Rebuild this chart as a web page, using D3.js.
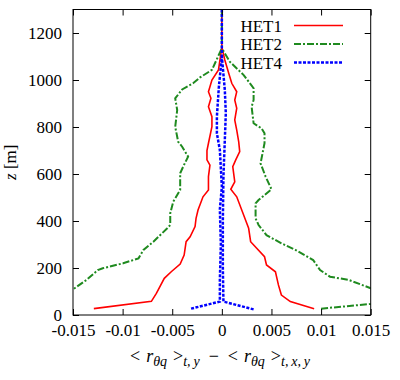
<!DOCTYPE html>
<html>
<head>
    <script src="https://cdn.jsdelivr.net/npm/d3@7"></script>
    <style>
        body { margin: 0; background: white; }
        .frame { fill: none; stroke: black; stroke-width: 1px; }
        .het1 { fill: none; stroke: #ff0000; stroke-width: 1.6px; }
        .het2 { fill: none; stroke: #1f8a1f; stroke-width: 2px; stroke-dasharray: 7,2,2,2; }
        .het4 { fill: none; stroke: #0000ff; stroke-width: 2.5px; stroke-dasharray: 3,1.5; }
    </style>
</head>

<body>
<div id="chart"></div>

<script>

    // [value, z] pairs, each branch read bottom -> top
    var het1Left = [[-0.0129, 27], [-0.0071, 58], [-0.0066, 92], [-0.0058, 156], [-0.0051, 184],
        [-0.0042, 217], [-0.0038, 255], [-0.0036, 312], [-0.0032, 333], [-0.0027, 376],
        [-0.0026, 411], [-0.0024, 447], [-0.0019, 503], [-0.00135, 532], [-0.00135, 589],
        [-0.0012, 638], [-0.0015, 660], [-0.0015, 700], [-0.00135, 731], [-0.001, 801],
        [-0.001, 844], [-0.00135, 886], [-0.0011, 922], [-0.00135, 950], [-0.001, 1000],
        [-0.00034, 1043], [0, 1140], [0, 1300]];
    var het1Right = [[0.0093, 27], [0.0069, 57], [0.0060, 85], [0.0057, 128], [0.0054, 184],
        [0.0045, 213], [0.0043, 248], [0.0029, 312], [0.0027, 369], [0.0015, 503],
        [0.0009, 535], [0.0013, 567], [0.0011, 631], [0.0014, 660], [0.0018, 695],
        [0.0017, 737], [0.0015, 787], [0.0013, 830], [0.0015, 880], [0.0013, 915],
        [0.0015, 950], [0.001, 986], [0.0007, 1028], [0.0003, 1085], [0, 1140]];

    var het2Left = [[-0.0178, 27], [-0.015, 109], [-0.01365, 149], [-0.0125, 191], [-0.012, 199],
        [-0.00995, 220], [-0.0084, 241], [-0.0079, 277], [-0.0069, 312], [-0.0055, 369],
        [-0.0052, 383], [-0.0052, 433], [-0.0049, 482], [-0.0042, 532], [-0.0042, 603],
        [-0.0039, 631], [-0.0034, 674], [-0.0040, 716], [-0.0044, 737], [-0.0047, 801],
        [-0.0045, 872], [-0.0047, 922], [-0.0040, 960], [-0.0029, 986], [-0.0022, 1011],
        [-0.001, 1043], [0, 1135], [0, 1300]];
    var het2Right = [[0.0100, 27], [0.0150, 47], [0.0170, 80], [0.0150, 114], [0.0128, 149],
        [0.0109, 163], [0.0099, 191], [0.0092, 234], [0.0074, 277], [0.0060, 305],
        [0.0045, 340], [0.0037, 383], [0.0034, 411], [0.0034, 475], [0.0037, 489],
        [0.0050, 535], [0.0044, 590], [0.0039, 645], [0.0043, 731], [0.0043, 773],
        [0.0040, 794], [0.0032, 816], [0.0030, 886], [0.0032, 915], [0.0032, 965],
        [0.0022, 1021], [0.0008, 1078], [0, 1135]];

    var het4Left = [[-0.0031, 27], [-0.0002, 57], [-0.0002, 150], [-0.0001, 300], [-0.0002, 450],
        [0, 546], [-0.0002, 702], [-0.0005, 773], [-0.0005, 844], [-0.0003, 971],
        [0, 1100], [0, 1300]];
    var het4Right = [[0.0032, 24], [0.00016, 57], [0.0001, 200], [0.0001, 400], [0.00016, 589],
        [0.0003, 745], [0.0004, 858], [0.0003, 957], [0, 1100]];

    var seriesNames = ['HET1', 'HET2', 'HET4'];
    var xTicks = [-0.015, -0.01, -0.005, 0, 0.005, 0.01, 0.015];
    var xTickLabels = ['-0.015', '-0.01', '-0.005', '0', '0.005', '0.01', '0.015'];
    var yTicks = [0, 200, 400, 600, 800, 1000, 1200];

    var serif = "'Liberation Serif'";
    var width = 400;
    var height = 380;
    var padding = { left: 73, right: 29.3, top: 9.5, bottom: 65 };
    var plotW = width - padding.left - padding.right;
    var plotH = height - padding.top - padding.bottom;

    var xScale = d3.scaleLinear().domain([-0.015, 0.015]).range([0, plotW]);
    var yScale = d3.scaleLinear().domain([0, 1300]).range([plotH, 0]);

    var svg = d3.select('#chart').append('svg')
        .attr('width', width)
        .attr('height', height)
        .attr('font-family', 'Liberation Serif');

    var g = svg.append('g')
        .attr('transform', 'translate(' + padding.left + ',' + padding.top + ')');

    g.append('clipPath').attr('id', 'clip')
        .append('rect').attr('width', plotW).attr('height', plotH);

    var pen = d3.line()
        .x(function(d) { return xScale(d[0]); })
        .y(function(d) { return yScale(d[1]); });

    var lines = g.append('g').attr('clip-path', 'url(#clip)');
    var branches = [
        [het1Left, 'het1'], [het1Right, 'het1'],
        [het2Left, 'het2'], [het2Right, 'het2'],
        [het4Left, 'het4'], [het4Right, 'het4']
    ];
    branches.forEach(function(b) {
        lines.append('path').datum(b[0]).attr('class', b[1]).attr('d', pen);
    });

    // axes, ticks inward on all four sides
    var tickLen = 6;
    function noDomain(a) { a.select('.domain').remove(); }
    g.append('g').attr('transform', 'translate(0,' + plotH + ')')
        .call(d3.axisBottom(xScale).tickValues(xTicks).tickSizeInner(-tickLen).tickSizeOuter(0)
            .tickFormat(function(d, i) { return xTickLabels[i]; }).tickPadding(9))
        .call(noDomain);
    g.append('g')
        .call(d3.axisTop(xScale).tickValues(xTicks).tickSizeInner(-tickLen).tickSizeOuter(0).tickFormat(''))
        .call(noDomain);
    g.append('g')
        .call(d3.axisLeft(yScale).tickValues(yTicks).tickSizeInner(-tickLen).tickSizeOuter(0)
            .tickFormat(d3.format('d')).tickPadding(11))
        .call(noDomain);
    g.append('g').attr('transform', 'translate(' + plotW + ',0)')
        .call(d3.axisRight(yScale).tickValues(yTicks).tickSizeInner(-tickLen).tickSizeOuter(0).tickFormat(''))
        .call(noDomain);

    g.selectAll('.tick text')
        .attr('font-family', null)
        .attr('font-size', null)
        .style('font-family', serif)
        .style('font-size', '17px')
        .attr('fill', 'black');
    g.selectAll('.tick line').attr('stroke', 'black');

    g.append('rect').attr('class', 'frame').attr('width', plotW).attr('height', plotH);

    // legend
    var legend = g.append('g');
    var legendClasses = ['het1', 'het2', 'het4'];
    seriesNames.forEach(function(name, i) {
        var y = 16 + i * 18.5;
        legend.append('text')
            .attr('x', 209).attr('y', y + 6)
            .attr('text-anchor', 'end')
            .style('font-family', serif)
            .style('font-size', '17px')
            .text(name);
        legend.append('line')
            .attr('class', legendClasses[i])
            .attr('x1', 221).attr('x2', 270)
            .attr('y1', y).attr('y2', y);
    });

    // x axis label, math-style spacing
    var xl = svg.append('text')
        .attr('x', 130)
        .attr('y', 362)
        .style('font-family', serif)
        .style('font-size', '18px');
    function part(txt, opts) {
        var t = xl.append('tspan').text(txt);
        if (opts.it) t.style('font-style', 'italic');
        if (opts.sub) t.style('font-size', '14px');
        if (opts.dx) t.attr('dx', opts.dx);
        if (opts.dy) t.attr('dy', opts.dy);
        return t;
    }
    part('<', {});
    part('r', { it: true, dx: 6 });
    part('θq', { it: true, sub: true, dy: 4 });
    part('>', { dx: 6, dy: -4 });
    part('t,\u2009y', { it: true, sub: true, dy: 4 });
    part('−', { dx: 9, dy: -4 });
    part('<', { dx: 9 });
    part('r', { it: true, dx: 6 });
    part('θq', { it: true, sub: true, dy: 4 });
    part('>', { dx: 6, dy: -4 });
    part('t,\u2009x,\u2009y', { it: true, sub: true, dy: 4 });

    var yl = svg.append('text')
        .attr('transform', 'translate(16,' + (padding.top + yScale(650)) + ') rotate(-90)')
        .attr('text-anchor', 'middle')
        .style('font-family', serif)
        .style('font-size', '17px');
    yl.append('tspan').style('font-style', 'italic').text('z');
    yl.append('tspan').text(' [m]');

</script>
</body>
</html>
